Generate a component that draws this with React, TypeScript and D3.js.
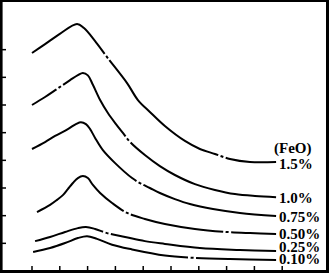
import React, { useEffect, useRef } from "react";
import * as d3 from "d3";

const W = 329;
const H = 273;

const seriesLabels = ["1.5%", "1.0%", "0.75%", "0.50%", "0.25%", "0.10%"];
const legendTitle = "(FeO)";

const x15 = [0, 0.47, 1.0, 1.62, 1.87, 2.27, 2.7, 3.42, 3.81, 4.24, 4.78, 5.5, 6.04, 6.58, 7.12, 7.84, 8.78];
const y15 = [7.88, 8.2, 8.57, 8.93, 8.78, 8.31, 7.73, 6.79, 6.18, 5.75, 5.24, 4.7, 4.41, 4.23, 4.05, 3.94, 3.94];

const x10 = [0, 0.47, 0.9, 1.37, 1.65, 1.83, 2.01, 2.19, 2.45, 2.73, 3.02, 3.27, 3.53, 4.06, 4.6, 5.14, 5.86, 6.58, 7.3, 8.02, 8.78];
const y10 = [6.0, 6.29, 6.58, 6.9, 7.08, 7.16, 7.07, 6.73, 6.18, 5.71, 5.31, 4.99, 4.66, 4.19, 3.79, 3.47, 3.14, 2.93, 2.78, 2.71, 2.67];

const x075 = [0, 0.47, 0.83, 1.29, 1.58, 1.76, 1.94, 2.09, 2.27, 2.55, 2.99, 3.6, 3.88, 4.24, 4.6, 5.14, 5.68, 6.51, 7.48, 8.78];
const y075 = [4.41, 4.66, 4.88, 5.13, 5.31, 5.38, 5.31, 5.13, 4.81, 4.37, 3.9, 3.36, 3.18, 3.0, 2.82, 2.6, 2.42, 2.24, 2.1, 1.99];

const x050 = [0.18, 0.65, 0.9, 1.12, 1.29, 1.47, 1.65, 1.83, 2.01, 2.19, 2.45, 2.88, 3.42, 4.06, 4.78, 5.86, 7.01, 7.84, 8.78];
const y050 = [2.13, 2.39, 2.57, 2.75, 2.96, 3.18, 3.36, 3.43, 3.36, 3.11, 2.82, 2.46, 2.1, 1.88, 1.7, 1.52, 1.41, 1.37, 1.34];

const x025 = [0.11, 0.65, 1.19, 1.65, 1.94, 2.27, 2.7, 3.35, 4.06, 4.78, 6.04, 7.48, 8.78];
const y025 = [1.08, 1.23, 1.41, 1.55, 1.59, 1.52, 1.37, 1.23, 1.08, 0.98, 0.83, 0.76, 0.72];

const x010 = [0.04, 0.65, 1.19, 1.65, 1.98, 2.34, 2.88, 3.6, 4.78, 5.76, 7.12, 8.78];
const y010 = [0.69, 0.83, 1.01, 1.19, 1.26, 1.16, 0.95, 0.78, 0.56, 0.48, 0.43, 0.4];

const seriesX = [x15, x10, x075, x050, x025, x010];
const seriesY = [y15, y10, y075, y050, y025, y010];

// x positions (data units) where each curve has a dash-dot break
const breaksX = [[2.7, 6.83], [1.0, 3.45], [3.88], [3.42, 7.01], [2.7], [5.76]];

const xTicks = [0, 1, 2, 3, 4, 5, 6, 7, 8, 9];
const yTicks = [1, 2, 3, 4, 5, 6, 7, 8];

const labelDy = [7, 6, 6, 5, 1, 4];

export default function App() {
  const ref = useRef<SVGSVGElement>(null);

  useEffect(() => {
    const svg = d3.select(ref.current);
    svg.selectAll("*").remove();

    const x = d3.scaleLinear().domain([0, 10]).range([32, 310]);
    const y = d3.scaleLinear().domain([0, 9]).range([271, 22]);

    svg.append("rect").attr("width", W).attr("height", H).attr("fill", "#fff");

    // frame
    svg.append("line").attr("x1", 0).attr("x2", W).attr("y1", 1).attr("y2", 1)
      .attr("stroke", "#000").attr("stroke-width", 2);
    svg.append("line").attr("x1", 327.5).attr("x2", 327.5).attr("y1", 0).attr("y2", 272)
      .attr("stroke", "#000").attr("stroke-width", 3);
    svg.append("line").attr("x1", 1.3).attr("x2", 1.3).attr("y1", 0).attr("y2", H)
      .attr("stroke", "#000").attr("stroke-width", 2.6);
    svg.append("line").attr("x1", 0).attr("x2", W).attr("y1", 271.5).attr("y2", 271.5)
      .attr("stroke", "#000").attr("stroke-width", 3);

    // ticks
    svg.append("g").selectAll("line").data(xTicks).join("line")
      .attr("x1", (d) => x(d)).attr("x2", (d) => x(d))
      .attr("y1", 271).attr("y2", 266)
      .attr("stroke", "#000").attr("stroke-width", 1.5);
    svg.append("g").selectAll("line").data(yTicks).join("line")
      .attr("x1", 2).attr("x2", 6)
      .attr("y1", (d) => y(d)).attr("y2", (d) => y(d))
      .attr("stroke", "#000").attr("stroke-width", 1.5);

    const line = d3.line<[number, number]>()
      .x((d) => x(d[0]))
      .y((d) => y(d[1]))
      .curve(d3.curveCatmullRom.alpha(0.5));

    seriesX.forEach((xs, i) => {
      const pts: [number, number][] = xs.map((v, j) => [v, seriesY[i][j]]);
      const path = svg.append("path")
        .attr("d", line(pts) as string)
        .attr("fill", "none")
        .attr("stroke", "#000")
        .attr("stroke-width", 2);
      const node = path.node() as SVGPathElement;
      const total = node.getTotalLength();
      const lengthAtX = (px: number) => {
        let lo = 0, hi = total;
        for (let k = 0; k < 40; k++) {
          const mid = (lo + hi) / 2;
          if (node.getPointAtLength(mid).x < px) lo = mid; else hi = mid;
        }
        return (lo + hi) / 2;
      };
      const arr: number[] = [];
      let pos = 0;
      breaksX[i].forEach((bx) => {
        const g = lengthAtX(x(bx));
        arr.push(Math.max(0, g - 4 - pos), 2.5, 3, 2.5);
        pos = g + 4;
      });
      arr.push(total - pos + 10, 10);
      path.attr("stroke-dasharray", arr.join(" "));

      const lx = xs[xs.length - 1];
      const ly = seriesY[i][seriesY[i].length - 1];
      svg.append("text")
        .attr("x", x(lx) + 3)
        .attr("y", y(ly) + labelDy[i])
        .attr("font-family", "'Liberation Serif', 'Times New Roman', serif")
        .attr("font-weight", "bold")
        .attr("font-size", 15)
        .attr("fill", "#000")
        .text(seriesLabels[i]);
    });

    svg.append("text")
      .attr("x", 274)
      .attr("y", 153)
      .attr("font-family", "'Liberation Serif', 'Times New Roman', serif")
      .attr("font-weight", "bold")
      .attr("font-size", 15)
      .attr("fill", "#000")
      .text(legendTitle);
  }, []);

  return (
    <svg
      ref={ref}
      width={W}
      height={H}
      style={{ position: "absolute", left: 0, top: 0, display: "block" }}
    />
  );
}
